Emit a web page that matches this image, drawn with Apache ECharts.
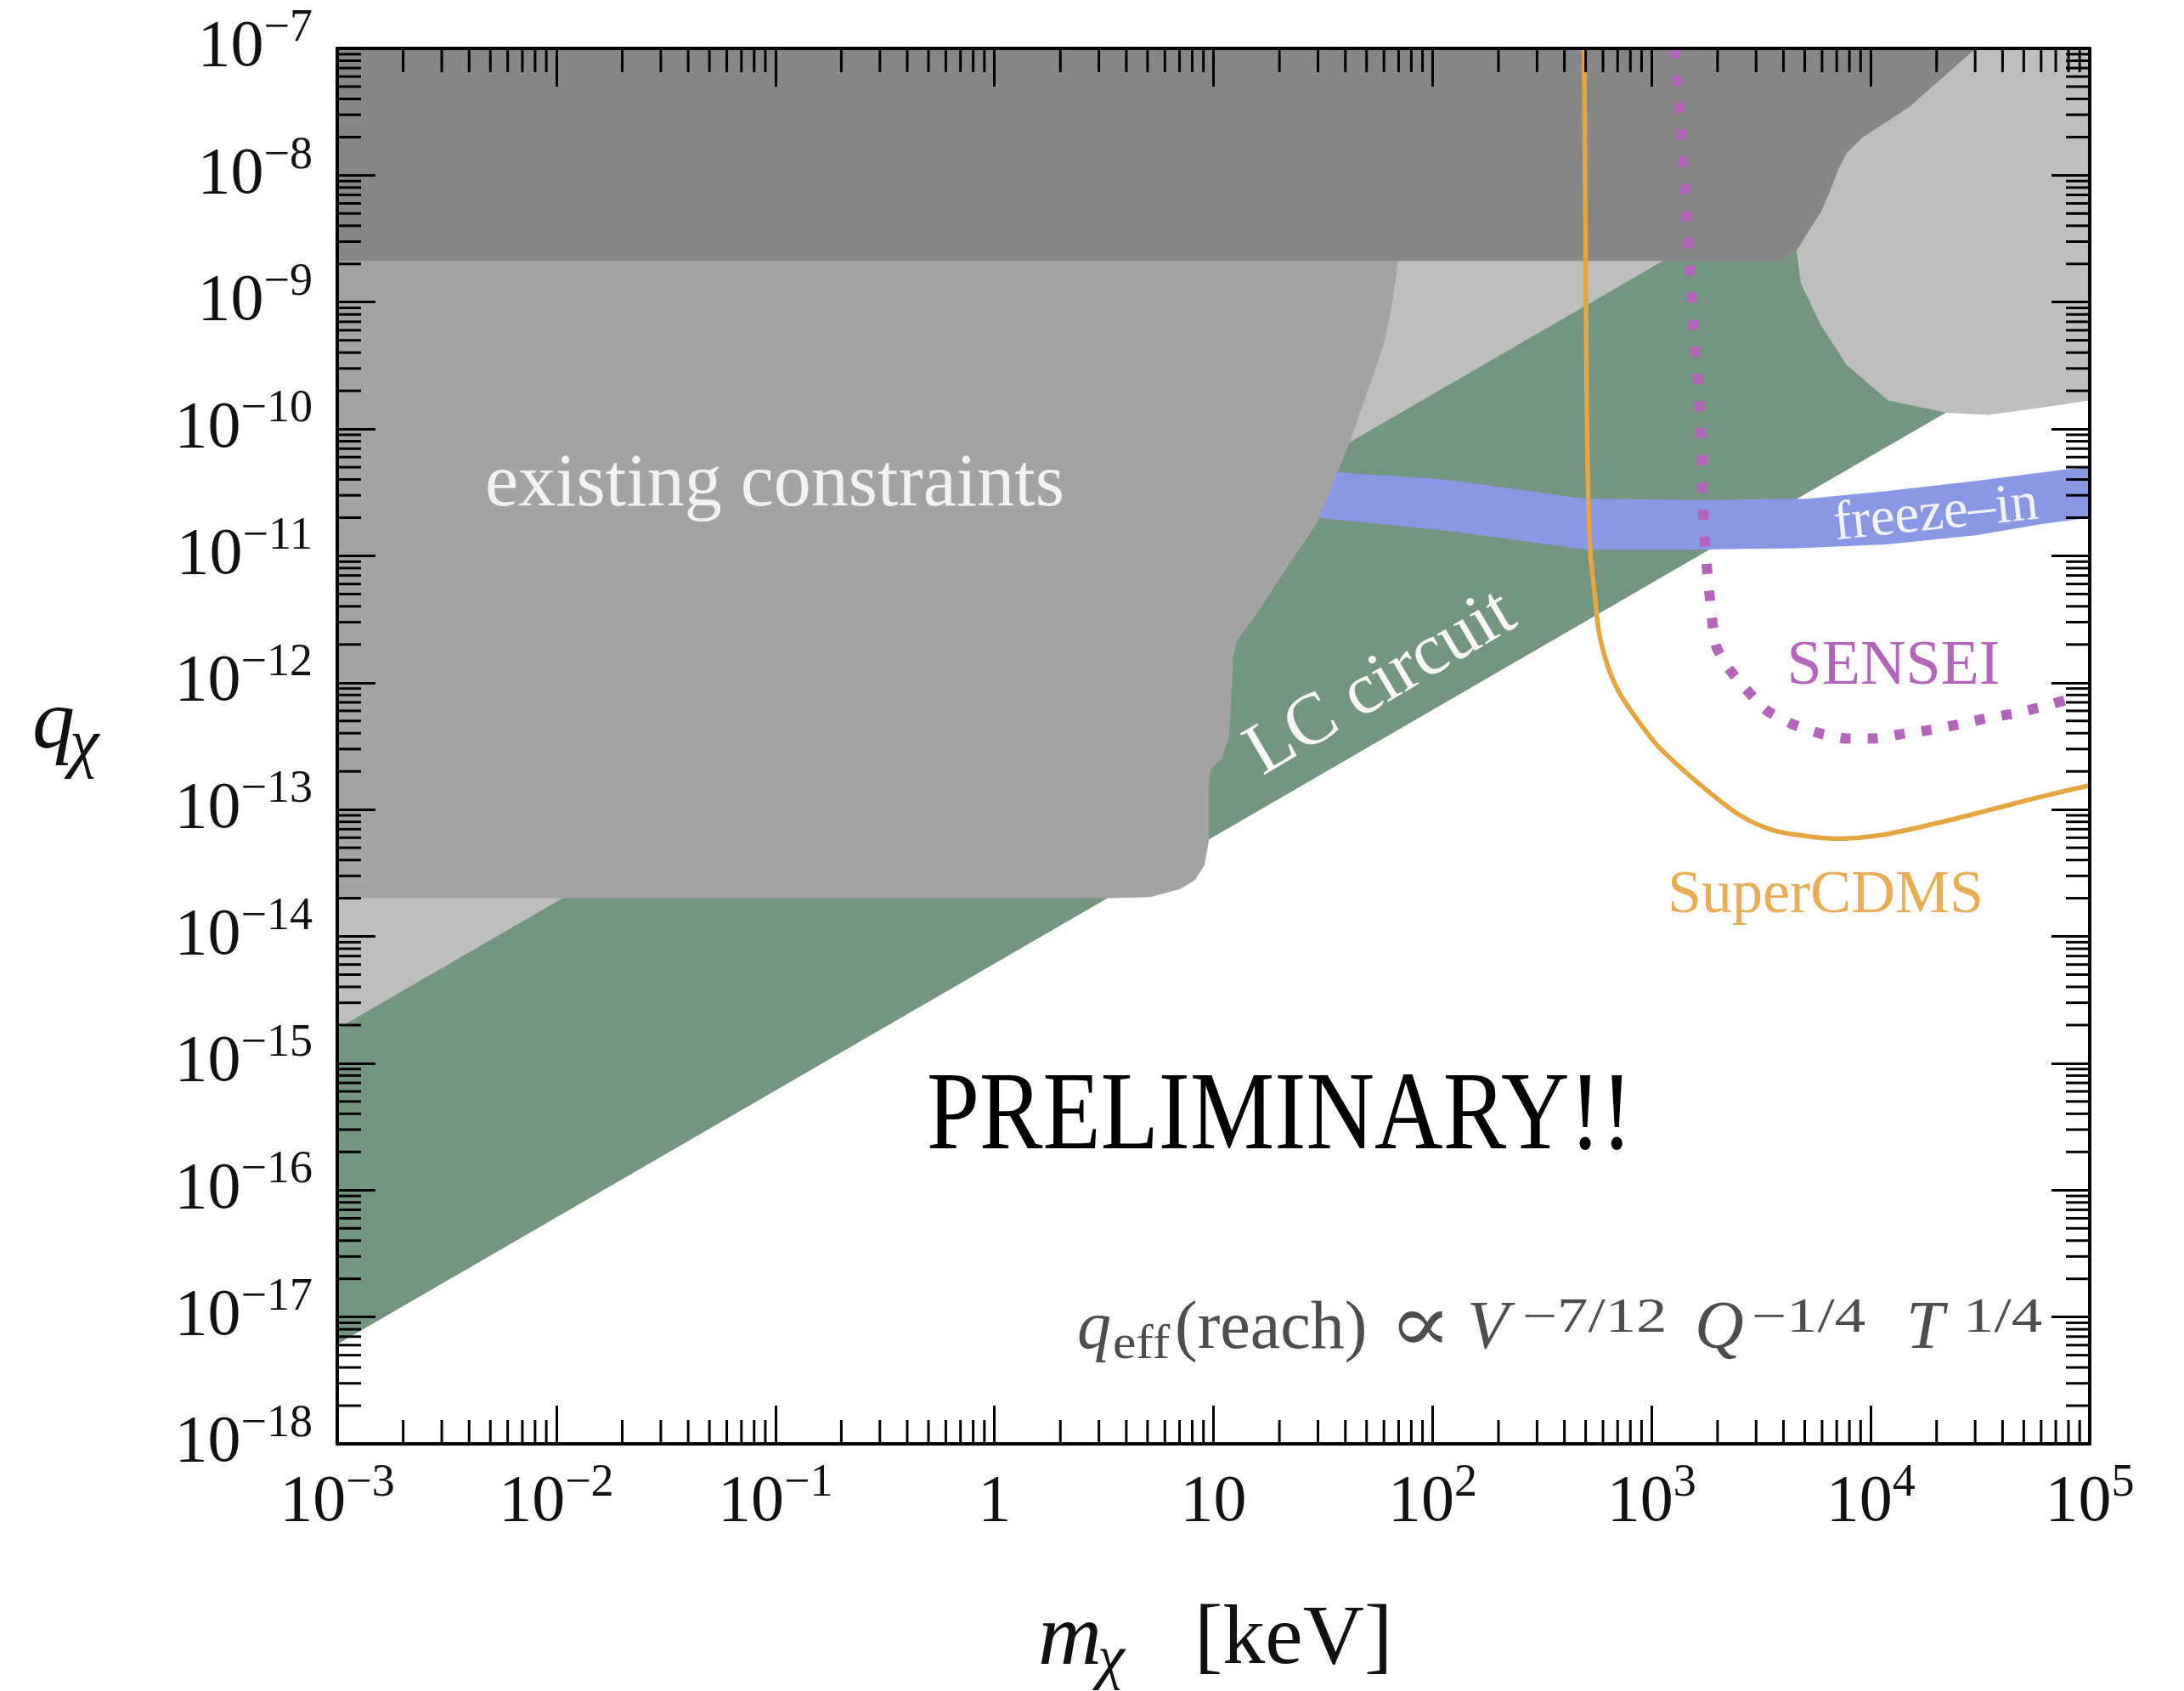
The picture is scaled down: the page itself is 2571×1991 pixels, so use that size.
<!DOCTYPE html>
<html>
<head>
<meta charset="utf-8">
<script src="https://cdn.jsdelivr.net/npm/echarts@6/dist/echarts.min.js"></script>
<style>
  html, body { margin: 0; padding: 0; background: #ffffff; }
  #chart { width: 2571px; height: 1991px; }
</style>
</head>
<body>
<div id="chart"></div>
<script>
// Axis decades: dark-matter mass m_chi in keV (x) and millicharge q_chi (y)
const massDecades = [-3, -2, -1, 0, 1, 2, 3, 4, 5];
const chargeDecades = [-18, -17, -16, -15, -14, -13, -12, -11, -10, -9, -8, -7];

// Existing constraints, darker upper band  [m (keV), q]
const darkConstraints = [
  [1e-3, 1e-7], [3.02e4, 1e-7], [1.49e4, 3.43e-8], [9.2e3, 1.99e-8], [7.76e3, 1.49e-8],
  [7.11e3, 1.11e-8], [6.5e3, 7.35e-9], [5.94e3, 5.15e-9], [5.2e3, 3.61e-9], [4.59e3, 2.54e-9],
  [3.84e3, 2.11e-9], [1e-3, 2.11e-9]
];

// Existing constraints, main block (labelled)
const mainConstraints = [
  [1e-3, 2.11e-9], [69.7, 2.11e-9], [65.5, 9.75e-10], [60.4, 4.88e-10], [51.4, 2.15e-10],
  [42.3, 8.17e-11], [36.0, 4.14e-11], [29.6, 1.80e-11], [21.4, 7.83e-12], [15.7, 3.46e-12],
  [12.8, 2.15e-12], [12.3, 1.63e-12], [12.1, 8.79e-13], [11.8, 3.82e-13], [10.9, 2.52e-13],
  [9.68, 2.07e-13], [9.51, 1.45e-13], [9.51, 5.57e-14], [9.10, 3.67e-14], [8.24, 2.78e-14],
  [7.01, 2.35e-14], [5.14, 2.04e-14], [3.44, 2.0e-14], [1e-3, 2.0e-14]
];

// Existing constraints, light region on the high-mass side
const rightConstraints = [
  [3.16e3, 1e-7], [1e5, 1e-7], [1e5, 1.68e-10], [6.68e4, 1.51e-10], [3.45e4, 1.29e-10],
  [2.23e4, 1.34e-10], [1.2e4, 1.68e-10], [7.76e3, 3.21e-10], [5.94e3, 6.53e-10],
  [4.8e3, 1.41e-9], [4.59e3, 2.54e-9], [3.16e3, 4e-9]
];

// LC circuit reach: upper and lower edges of the band (q ∝ m)
const lcUpper = [[1e-3, 1.88e-15], [5.31e4, 1e-7]];
const lcLower = [[1e-3, 6.1e-18], [1e5, 6.1e-10]];

// Freeze-in band edges
const freezeInUpper = [
  [22.4, 5.37e-11], [29.6, 4.68e-11], [115, 3.98e-11], [254, 3.31e-11], [492, 2.82e-11],
  [1660, 2.75e-11], [5110, 2.82e-11], [1.18e4, 3.24e-11], [3.02e4, 3.89e-11],
  [7.71e4, 4.79e-11], [1e5, 5.01e-11]
];
const freezeInLower = [
  [22.4, 2.09e-11], [29.6, 2.0e-11], [115, 1.58e-11], [254, 1.32e-11], [492, 1.12e-11],
  [1660, 1.12e-11], [4620, 1.15e-11], [1.18e4, 1.23e-11], [3.02e4, 1.45e-11],
  [6.05e4, 1.78e-11], [1e5, 2.0e-11]
];

// SuperCDMS projected reach
const superCdms = [
  [492, 1e-7], [506, 1.48e-10], [514, 2.82e-11], [527, 1e-11], [550, 5.0e-12], [575, 2.5e-12],
  [631, 1.35e-12], [708, 8.5e-13], [851, 5.25e-13], [1070, 3.16e-13], [1660, 1.58e-13],
  [2510, 9.1e-14], [3550, 6.9e-14], [5010, 6.2e-14], [7080, 5.9e-14], [1.12e4, 6.3e-14],
  [2.0e4, 7.8e-14], [3.55e4, 1.0e-13], [6.31e4, 1.29e-13], [1e5, 1.55e-13]
];

// SENSEI projected reach
const sensei = [
  [1280, 1e-7], [1360, 2.26e-8], [1460, 3.85e-9], [1560, 6.53e-10], [1670, 1.13e-10],
  [1730, 1.62e-11], [1830, 5.37e-12], [1960, 2.0e-12], [2210, 1.35e-12], [2660, 9.12e-13],
  [3360, 6.03e-13], [4430, 4.68e-13], [5890, 3.98e-13], [7760, 3.63e-13], [1.03e4, 3.63e-13],
  [1.43e4, 3.98e-13], [1.9e4, 4.27e-13], [2.5e4, 4.68e-13], [3.39e4, 5.25e-13],
  [4.59e4, 5.75e-13], [6.05e4, 6.46e-13], [8.05e4, 7.41e-13]
];

// ---- helpers ----
const SERIF = '"Liberation Serif", "DejaVu Serif", serif';
const X_MIN = massDecades[0], X_MAX = massDecades[massDecades.length - 1];
const Y_MIN = chargeDecades[0], Y_MAX = chargeDecades[chargeDecades.length - 1];
const toLog = p => [Math.log10(p[0]), Math.log10(p[1])];

function regionSeries(name, pts, color) {
  const logPts = pts.map(toLog);
  return {
    type: 'custom', name, coordinateSystem: 'cartesian2d', silent: true,
    data: logPts, encode: { x: 0, y: 1 }, z: 2,
    renderItem: (params, api) => {
      if (params.dataIndex !== 0) return null;
      return {
        type: 'polygon',
        shape: { points: logPts.map(p => api.coord(p)) },
        style: { fill: color }
      };
    }
  };
}

const lightRegion = [[1e-3, 1e-7], lcUpper[0], lcUpper[1]];
const lcBand = [lcUpper[0], lcUpper[1], [1e5, 1e-7], lcLower[1], lcLower[0]];
const freezeInBand = freezeInUpper.concat(freezeInLower.slice().reverse());

// minor tick positions (2..9 within each decade)
const minorFactors = [2, 3, 4, 5, 6, 7, 8, 9];
const xMinor = [], yMinor = [];
massDecades.slice(0, -1).forEach(d => minorFactors.forEach(k => xMinor.push(d + Math.log10(k))));
chargeDecades.slice(0, -1).forEach(d => minorFactors.forEach(k => yMinor.push(d + Math.log10(k))));

const MINOR_LEN = 28, MAJOR_LEN = 45, TICK_W = 3;

function supLabel(n) {
  if (n === 0) return '{b|1}';
  if (n === 1) return '{b|10}';
  return '{b|10}{s|' + (n < 0 ? '\u2212' + (-n) : String(n)) + '}';
}
const labelRich = {
  b: { fontFamily: SERIF, fontSize: 78, lineHeight: 100, color: '#111', verticalAlign: 'middle' },
  s: { fontFamily: SERIF, fontSize: 54, lineHeight: 62, color: '#111', verticalAlign: 'top' }
};

function baseAxis(extra) {
  return Object.assign({
    type: 'value', z: 10,
    splitLine: { show: false },
    axisLine: { show: true, onZero: false, lineStyle: { color: '#000', width: 4 } },
    axisTick: { show: true, inside: true, length: MAJOR_LEN, lineStyle: { color: '#000', width: TICK_W } },
    minorTick: { show: false }
  }, extra);
}

// Scaling-law annotation, set piece by piece: [text, x, centre y, size, italic, align, widen]
const FORMULA = '#4d4d4d';
const formulaPieces = [
  ['q', 1268, 1566, 80, true, 'left', 1],
  ['eff', 1310, 1584, 56, false, 'left', 1.1],
  ['(reach)', 1383, 1566, 80, false, 'left', 1],
  ['\u221D', 1672, 1566, 96, false, 'center', 1.15],
  ['V', 1727, 1566, 80, true, 'left', 1],
  ['\u22127/12', 1792, 1553, 56, false, 'left', 1.3],
  ['Q', 1995, 1566, 80, true, 'left', 1],
  ['\u22121/4', 2062, 1553, 56, false, 'left', 1.3],
  ['T', 2244, 1566, 80, true, 'left', 1],
  ['1/4', 2311, 1553, 56, false, 'left', 1.3]
];
const formulaElements = formulaPieces.map(([t, x, y, size, italic, align, widen]) => ({
  type: 'text', x, y, z: 100, silent: true, scaleX: widen,
  style: { text: t, fontFamily: SERIF, fontSize: size, fontStyle: italic ? 'italic' : 'normal',
    fill: FORMULA, align, verticalAlign: 'middle' }
}));

const chart = echarts.init(document.getElementById('chart'), null, { renderer: 'canvas' });

const option = {
  backgroundColor: '#ffffff',
  animation: false,
  grid: { left: 397, right: 111, top: 57, bottom: 291, containLabel: false },
  xAxis: [
    baseAxis({
      position: 'bottom', min: X_MIN, max: X_MAX, interval: 1,
      axisLabel: { show: true, margin: 20, showMinLabel: true, showMaxLabel: true,
        formatter: v => supLabel(Math.round(v)), rich: labelRich }
    }),
    baseAxis({ position: 'top', min: X_MIN, max: X_MAX, interval: 1, axisLabel: { show: false } })
  ],
  yAxis: [
    baseAxis({
      position: 'left', min: Y_MIN, max: Y_MAX, interval: 1,
      axisLabel: { show: true, margin: 29, showMinLabel: true, showMaxLabel: true,
        formatter: v => supLabel(Math.round(v)), rich: labelRich }
    }),
    baseAxis({ position: 'right', min: Y_MIN, max: Y_MAX, interval: 1, axisLabel: { show: false } })
  ],
  series: [
    regionSeries('constraints-light', lightRegion, '#bebebe'),
    regionSeries('LC circuit', lcBand, '#749580'),
    regionSeries('constraints-right', rightConstraints, '#bebebe'),
    regionSeries('freeze-in', freezeInBand, '#8a97e4'),
    regionSeries('existing constraints', mainConstraints, '#a3a3a3'),
    regionSeries('constraints-dark', darkConstraints, '#878787'),
    {
      type: 'line', name: 'SuperCDMS', data: superCdms.map(toLog), showSymbol: false,
      smooth: 0.3, silent: true, clip: true, z: 3,
      lineStyle: { color: '#e6a53e', width: 5.5 }
    },
    {
      type: 'line', name: 'SENSEI', data: sensei.map(toLog), showSymbol: false,
      smooth: 0.2, silent: true, clip: true, z: 3,
      lineStyle: { color: '#b464ba', width: 12, type: [12, 20], cap: 'butt' }
    },
    {
      type: 'custom', name: 'x minor ticks', coordinateSystem: 'cartesian2d', silent: true, z: 11,
      data: xMinor.map(v => [v, Y_MIN]), encode: { x: 0, y: 1 },
      renderItem: (params, api) => {
        const v = api.value(0);
        const b = api.coord([v, Y_MIN]);
        const t = api.coord([v, Y_MAX]);
        const st = { stroke: '#000', lineWidth: TICK_W };
        return { type: 'group', children: [
          { type: 'line', shape: { x1: b[0], y1: b[1], x2: b[0], y2: b[1] - MINOR_LEN }, style: st },
          { type: 'line', shape: { x1: t[0], y1: t[1], x2: t[0], y2: t[1] + MINOR_LEN }, style: st }
        ] };
      }
    },
    {
      type: 'custom', name: 'y minor ticks', coordinateSystem: 'cartesian2d', silent: true, z: 11,
      data: yMinor.map(v => [X_MIN, v]), encode: { x: 0, y: 1 },
      renderItem: (params, api) => {
        const v = api.value(1);
        const l = api.coord([X_MIN, v]);
        const r = api.coord([X_MAX, v]);
        const st = { stroke: '#000', lineWidth: TICK_W };
        return { type: 'group', children: [
          { type: 'line', shape: { x1: l[0], y1: l[1], x2: l[0] + MINOR_LEN, y2: l[1] }, style: st },
          { type: 'line', shape: { x1: r[0], y1: r[1], x2: r[0] - MINOR_LEN, y2: r[1] }, style: st }
        ] };
      }
    }
  ],
  graphic: { elements: [
    { type: 'text', x: 571, y: 572, z: 100, silent: true,
      style: { text: 'existing constraints', fontFamily: SERIF, fontSize: 88, fill: '#f2f2f2',
        align: 'left', verticalAlign: 'middle' } },
    { type: 'text', x: 1626, y: 805, z: 100, silent: true, rotation: 30.5 * Math.PI / 180,
      style: { text: 'LC circuit', fontFamily: SERIF, fontSize: 86, fill: '#f7f7f7',
        align: 'center', verticalAlign: 'middle' } },
    { type: 'text', x: 2279, y: 606, z: 100, silent: true, rotation: 6 * Math.PI / 180,
      style: { text: 'freeze\u2013in', fontFamily: SERIF, fontSize: 65, fill: '#f3f4fb',
        align: 'center', verticalAlign: 'middle' } },
    { type: 'text', x: 2229, y: 786, z: 100, silent: true,
      style: { text: 'SENSEI', fontFamily: SERIF, fontSize: 74, fill: '#b464ba',
        align: 'center', verticalAlign: 'middle' } },
    { type: 'text', x: 2149, y: 1055, z: 100, silent: true,
      style: { text: 'SuperCDMS', fontFamily: SERIF, fontSize: 72, fill: '#e8ad55',
        align: 'center', verticalAlign: 'middle' } },
    { type: 'text', x: 1091, y: 1318, z: 100, silent: true, scaleX: 0.852,
      style: { text: 'PRELIMINARY!!', fontFamily: SERIF, fontSize: 131, fill: '#000',
        align: 'left', verticalAlign: 'middle' } },
    ...formulaElements,
    // x-axis title
    { type: 'text', x: 1222, y: 1872, z: 100, silent: true,
      style: {
        text: '{m|m}{c|\u03C7}{n|[keV]}', align: 'left', verticalAlign: 'top', fill: '#111',
        rich: {
          m: { fontFamily: SERIF, fontSize: 104, fontStyle: 'italic', lineHeight: 120, verticalAlign: 'middle', width: 70, align: 'left', fill: '#111' },
          c: { fontFamily: SERIF, fontSize: 72, fontStyle: 'italic', lineHeight: 84, verticalAlign: 'bottom', width: 114, align: 'left', fill: '#111' },
          n: { fontFamily: SERIF, fontSize: 100, lineHeight: 120, verticalAlign: 'middle', align: 'left', fill: '#111' }
        }
      } },
    // y-axis title
    { type: 'text', x: 38, y: 790, z: 100, silent: true,
      style: {
        text: '{q|q}{c|\u03C7}', align: 'left', verticalAlign: 'top', fill: '#111',
        rich: {
          q: { fontFamily: SERIF, fontSize: 100, fontStyle: 'italic', lineHeight: 128, verticalAlign: 'middle', width: 44, align: 'left', fill: '#111' },
          c: { fontFamily: SERIF, fontSize: 78, fontStyle: 'italic', lineHeight: 90, verticalAlign: 'bottom', align: 'left', fill: '#111' }
        }
      } }
  ] }
};

chart.setOption(option);
</script>
</body>
</html>
